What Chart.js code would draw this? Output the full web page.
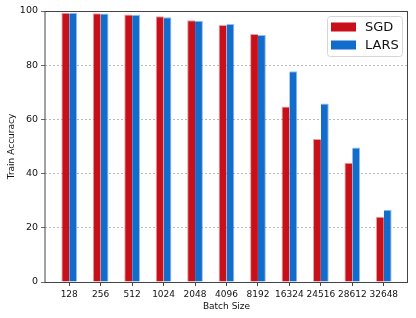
<!DOCTYPE html>
<html>
<head>
<meta charset="utf-8">
<script src="https://cdn.jsdelivr.net/npm/chart.js@4"></script>
<style>
  html, body { margin: 0; padding: 0; background: #fff; }
  #wrap { width: 416px; height: 318px; }
</style>
</head>
<body>
<div id="wrap"><canvas id="chart" width="416" height="318"></canvas></div>
<script>
// batch sizes on the x axis
const batchSizes = ['128', '256', '512', '1024', '2048', '4096', '8192', '16324', '24516', '28612', '32648'];
// train accuracy (%)
const sgdAcc  = [99.4, 99.2, 98.7, 98.1, 96.6, 94.8, 91.5, 64.8, 52.8, 44.0, 24.1];
const larsAcc = [99.4, 99.1, 98.6, 97.7, 96.4, 95.2, 91.1, 77.8, 65.9, 49.6, 26.7];
const yTicks = [0, 20, 40, 60, 80, 100];

const FONT = 'DejaVu Sans';

// frame around the plot + legend box, like matplotlib
const framePlugin = {
  id: 'frame',
  afterDraw(chart) {
    const { ctx, chartArea: a } = chart;
    ctx.save();
    ctx.strokeStyle = '#444';
    ctx.lineWidth = 1;
    ctx.strokeRect(a.left, a.top + 0.5, a.right - a.left - 0.5, a.bottom - a.top);

    // legend
    const w = 75, h = 40;
    const x0 = a.right - 6 - w, y0 = a.top + 5;
    ctx.beginPath();
    ctx.roundRect(x0 + 0.5, y0 + 0.5, w, h, 3);
    ctx.fillStyle = 'rgba(255,255,255,0.8)';
    ctx.fill();
    ctx.strokeStyle = '#d6d6d6';
    ctx.stroke();
    ctx.font = '13px ' + FONT;
    ctx.textBaseline = 'middle';
    chart.data.datasets.forEach((ds, i) => {
      const cy = y0 + 11 + i * 18;
      ctx.fillStyle = ds.backgroundColor;
      ctx.fillRect(x0 + 4, cy - 4.5, 25, 9);
      ctx.fillStyle = '#111';
      ctx.fillText(ds.label, x0 + 38, cy + 0.5);
    });
    ctx.restore();
  }
};

new Chart(document.getElementById('chart'), {
  type: 'bar',
  data: {
    datasets: [
      {
        label: 'SGD',
        data: sgdAcc.map((v, i) => ({ x: i, y: v })),
        backgroundColor: '#c8101a',
        borderColor: 'rgba(200,16,26,0.4)',
        borderWidth: { left: 1, top: 1, right: 0, bottom: 0 }
      },
      {
        label: 'LARS',
        data: larsAcc.map((v, i) => ({ x: i, y: v })),
        backgroundColor: '#126ccc',
        borderColor: 'rgba(18,108,204,0.45)',
        borderWidth: { left: 0, top: 1, right: 1, bottom: 0 }
      }
    ]
  },
  options: {
    responsive: false,
    animation: false,
    layout: { padding: { top: 11, right: 8, left: 0, bottom: 0 } },
    categoryPercentage: 0.5,
    barPercentage: 1.0,
    plugins: {
      legend: { display: false },
      tooltip: { enabled: false }
    },
    scales: {
      x: {
        type: 'linear',
        offset: false,
        min: -0.77,
        max: batchSizes.length - 1 + 0.77,
        afterBuildTicks: s => { s.ticks = batchSizes.map((_, i) => ({ value: i })); },
        afterFit: s => { s.height = 36; },
        ticks: {
          callback: v => batchSizes[v],
          color: '#111',
          font: { family: FONT, size: 9 },
          padding: 3,
          maxRotation: 0,
          autoSkip: false
        },
        grid: { offset: false, drawOnChartArea: false, drawTicks: true, tickLength: 4, tickColor: '#444' },
        border: { display: false },
        title: {
          display: true,
          text: 'Batch Size',
          color: '#111',
          font: { family: FONT, size: 9 },
          padding: { top: 1, bottom: 6 }
        }
      },
      y: {
        min: 0,
        max: 100,
        afterBuildTicks: s => { s.ticks = yTicks.map(v => ({ value: v })); },
        afterFit: s => { s.width = 45; },
        ticks: {
          color: '#111',
          font: { family: FONT, size: 9.5 },
          padding: 3
        },
        grid: {
          color: c => (c.tick && (c.tick.value === 0 || c.tick.value === 100)) ? 'rgba(0,0,0,0)' : '#aaa',
          lineWidth: 0.8,
          drawTicks: true,
          tickLength: 4,
          tickColor: '#444'
        },
        border: { display: false, dash: [2, 2] },
        title: {
          display: true,
          text: 'Train Accuracy',
          color: '#111',
          font: { family: FONT, size: 9 },
          padding: { top: 6, bottom: 2 }
        }
      }
    }
  },
  plugins: [framePlugin]
});
</script>
</body>
</html>
